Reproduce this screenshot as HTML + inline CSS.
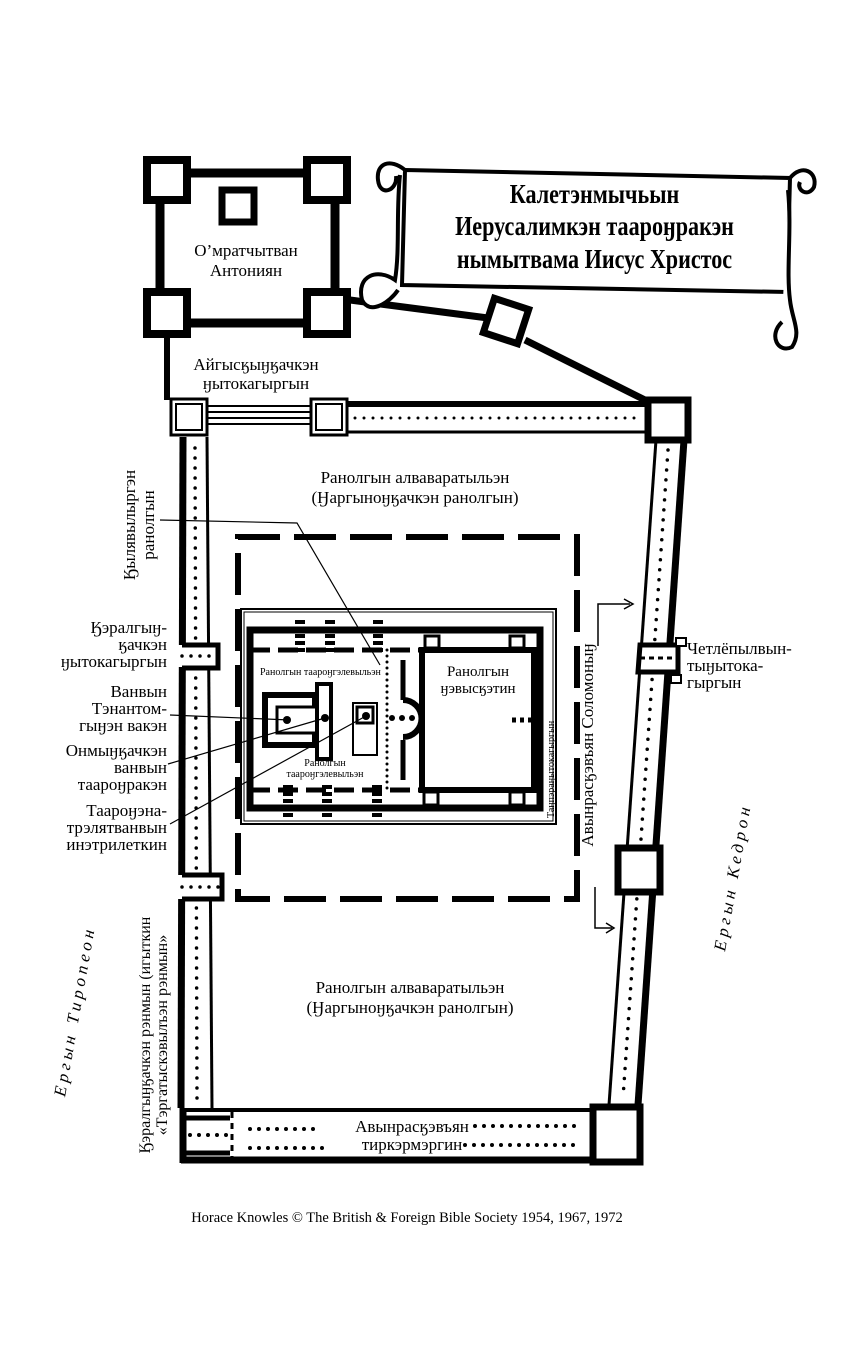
<!DOCTYPE html>
<html><head><meta charset="utf-8"><style>
html,body{margin:0;padding:0;background:#fff;}
svg{display:block;}
text{font-family:"Liberation Serif",serif;fill:#000;}
</style></head><body>
<svg width="864" height="1357" viewBox="0 0 864 1357" xmlns="http://www.w3.org/2000/svg">
<g fill="none" stroke="#000">
<rect x="160" y="173" width="175" height="150" stroke-width="9"/>
<rect x="147" y="160" width="40" height="40" stroke-width="8" fill="#fff"/>
<rect x="307" y="160" width="40" height="40" stroke-width="8" fill="#fff"/>
<rect x="147" y="292" width="40" height="42" stroke-width="8" fill="#fff"/>
<rect x="307" y="292" width="40" height="42" stroke-width="8" fill="#fff"/>
<rect x="222" y="190" width="32" height="32" stroke-width="7"/>
<polyline points="350,300 488,318" stroke-width="7"/>
<polyline points="525,340 655,405" stroke-width="7"/>
<rect x="488" y="303" width="36" height="36" stroke-width="7" fill="#fff" transform="rotate(18 506 321)"/>
<line x1="167" y1="335" x2="167" y2="400" stroke-width="6"/>
</g>
<text x="246" y="256" font-size="17" text-anchor="middle">О’мратчытван</text>
<text x="246" y="276" font-size="17" text-anchor="middle">Антониян</text>
<g fill="#fff" stroke="#000" stroke-width="4">
<path d="M405,170 L790,178 L787,292 L402,285 Z"/>
<path d="M405,170 C390,158 376,163 378,180 C380,198 398,190 396,176" />
<path d="M400,175 C396,210 400,250 395,280 C378,268 356,275 362,300 C370,316 390,302 398,290"/>
<path d="M790,178 C802,163 818,172 814,187 C808,198 796,190 800,182"/>
<path d="M788,190 C792,230 786,270 790,300 C792,320 802,332 792,347 C778,354 768,335 782,322"/>
</g>
<text x="595" y="203" font-size="27" font-weight="bold" text-anchor="middle" transform="scale(0.82 1) translate(130 0)">Калетэнмычьын</text>
<text x="595" y="235" font-size="27" font-weight="bold" text-anchor="middle" transform="scale(0.82 1) translate(130 0)">Иерусалимкэн таароӈракэн</text>
<text x="595" y="268" font-size="27" font-weight="bold" text-anchor="middle" transform="scale(0.82 1) translate(130 0)">нымытвама Иисус Христос</text>
<text x="256" y="370" font-size="17" text-anchor="middle">Айгысӄыӈӄачкэн</text>
<text x="256" y="389" font-size="17" text-anchor="middle">ӈытокагыргын</text>
<g stroke="#000" fill="none">
<line x1="205" y1="406" x2="312" y2="406" stroke-width="2"/>
<line x1="205" y1="412" x2="312" y2="412" stroke-width="2"/>
<line x1="205" y1="418" x2="312" y2="418" stroke-width="2"/>
<line x1="205" y1="424" x2="312" y2="424" stroke-width="2"/>
<line x1="347" y1="404" x2="648" y2="404" stroke-width="6"/>
<line x1="347" y1="432" x2="648" y2="432" stroke-width="3"/>
<line x1="355" y1="418" x2="640" y2="418" stroke-width="3" stroke-dasharray="0 9" stroke-linecap="round"/>
<rect x="171" y="399" width="36" height="36" stroke-width="3" fill="#fff"/>
<rect x="176" y="404" width="26" height="26" stroke-width="2"/>
<rect x="311" y="399" width="36" height="36" stroke-width="3" fill="#fff"/>
<rect x="316" y="404" width="26" height="26" stroke-width="2"/>
<rect x="648" y="400" width="40" height="40" stroke-width="7" fill="#fff"/>
<line x1="183" y1="437" x2="181" y2="1108" stroke-width="7"/>
<line x1="207" y1="437" x2="212" y2="1108" stroke-width="3"/>
<line x1="195" y1="448" x2="197" y2="1100" stroke-width="3.5" stroke-dasharray="0 10" stroke-linecap="round"/>
<rect x="176" y="645" width="42" height="22" fill="#fff" stroke="none"/>
<path d="M182,645 H218 V668 H182" stroke-width="5"/>
<line x1="182" y1="656" x2="215" y2="656" stroke-width="3.5" stroke-dasharray="0 9" stroke-linecap="round"/>
<rect x="176" y="875" width="46" height="24" fill="#fff" stroke="none"/>
<path d="M182,875 H222 V899 H182" stroke-width="5"/>
<line x1="182" y1="887" x2="220" y2="887" stroke-width="3.5" stroke-dasharray="0 9" stroke-linecap="round"/>
<line x1="684" y1="440" x2="638" y2="1105" stroke-width="7"/>
<line x1="656" y1="440" x2="609" y2="1105" stroke-width="3"/>
<line x1="668" y1="450" x2="623" y2="1098" stroke-width="3.5" stroke-dasharray="0 10" stroke-linecap="round"/>
<rect x="634" y="643" width="48" height="30" fill="#fff" stroke="none"/>
<path d="M640,645 H678 V672 H638 Z" stroke-width="5" fill="#fff"/>
<line x1="640" y1="658" x2="676" y2="658" stroke-width="3" stroke-dasharray="5 4"/>
<rect x="676" y="638" width="10" height="8" stroke-width="2" fill="#fff"/>
<rect x="671" y="675" width="10" height="8" stroke-width="2" fill="#fff"/>
<rect x="618" y="848" width="42" height="44" stroke-width="7" fill="#fff"/>
<line x1="181" y1="1110" x2="595" y2="1110" stroke-width="4"/>
<line x1="181" y1="1160" x2="595" y2="1160" stroke-width="7"/>
<line x1="185" y1="1118" x2="230" y2="1118" stroke-width="5"/>
<line x1="185" y1="1153" x2="230" y2="1153" stroke-width="5"/>
<line x1="183" y1="1108" x2="183" y2="1163" stroke-width="7"/>
<line x1="190" y1="1135" x2="230" y2="1135" stroke-width="4" stroke-dasharray="0 9" stroke-linecap="round"/>
<line x1="232" y1="1112" x2="232" y2="1160" stroke-width="3" stroke-dasharray="6 5"/>
<line x1="250" y1="1129" x2="320" y2="1129" stroke-width="4" stroke-dasharray="0 9" stroke-linecap="round"/>
<line x1="250" y1="1148" x2="330" y2="1148" stroke-width="4" stroke-dasharray="0 9" stroke-linecap="round"/>
<line x1="475" y1="1126" x2="580" y2="1126" stroke-width="4" stroke-dasharray="0 9" stroke-linecap="round"/>
<line x1="465" y1="1145" x2="580" y2="1145" stroke-width="4" stroke-dasharray="0 9" stroke-linecap="round"/>
<rect x="593" y="1107" width="47" height="55" stroke-width="7" fill="#fff"/>
<rect x="238" y="537" width="339" height="362" stroke-width="6" stroke-dasharray="42 14"/>
<rect x="241" y="609" width="315" height="215" stroke-width="2" fill="#fff"/>
<rect x="244" y="612" width="309" height="209" stroke-width="1"/>
<rect x="250" y="630" width="290" height="178" stroke-width="7"/>
<line x1="250" y1="650" x2="540" y2="650" stroke-width="5" stroke-dasharray="20 8"/>
<line x1="250" y1="790" x2="540" y2="790" stroke-width="5" stroke-dasharray="20 8"/>
<rect x="422" y="650" width="112" height="140" stroke-width="6" fill="#fff"/>
<rect x="425" y="636" width="14" height="12" stroke-width="3"/>
<rect x="510" y="636" width="14" height="12" stroke-width="3"/>
<rect x="424" y="792" width="14" height="13" stroke-width="3"/>
<rect x="510" y="792" width="14" height="13" stroke-width="3"/>
<line x1="387" y1="650" x2="387" y2="790" stroke-width="3" stroke-dasharray="0 6" stroke-linecap="round"/>
<line x1="403" y1="660" x2="403" y2="700" stroke-width="5"/>
<line x1="403" y1="740" x2="403" y2="780" stroke-width="5"/>
<path d="M403,700 A18,18 0 0 1 403,737" stroke-width="6" fill="#fff"/>
<rect x="265" y="695" width="50" height="50" stroke-width="6"/>
<rect x="277" y="707" width="40" height="26" stroke-width="3" fill="#fff"/>
<rect x="317" y="684" width="14" height="75" stroke-width="4" fill="#fff"/>
<rect x="353" y="703" width="24" height="52" stroke-width="2"/>
<rect x="357" y="707" width="16" height="16" stroke-width="3"/>
<line x1="300" y1="620" x2="300" y2="655" stroke-width="10" stroke-dasharray="4 3"/>
<line x1="330" y1="620" x2="330" y2="655" stroke-width="10" stroke-dasharray="4 3"/>
<line x1="378" y1="620" x2="378" y2="655" stroke-width="10" stroke-dasharray="4 3"/>
<line x1="288" y1="785" x2="288" y2="818" stroke-width="10" stroke-dasharray="4 3"/>
<line x1="327" y1="785" x2="327" y2="818" stroke-width="10" stroke-dasharray="4 3"/>
<line x1="377" y1="785" x2="377" y2="818" stroke-width="10" stroke-dasharray="4 3"/>
<line x1="512" y1="720" x2="540" y2="720" stroke-width="5" stroke-dasharray="4 4"/>
</g>
<g fill="#000">
<circle cx="287" cy="720" r="4"/><circle cx="325" cy="718" r="4"/><circle cx="366" cy="716" r="4"/>
<circle cx="392" cy="718" r="3"/><circle cx="402" cy="718" r="3"/><circle cx="412" cy="718" r="3"/>
</g>
<text x="260" y="675" font-size="10">Ранолгын таароӈгэлевыльэн</text>
<text x="325" y="766" font-size="10" text-anchor="middle">Ранолгын</text>
<text x="325" y="777" font-size="10" text-anchor="middle">таароӈгэлевыльэн</text>
<text x="478" y="676" font-size="15" text-anchor="middle">Ранолгын</text>
<text x="478" y="693" font-size="15" text-anchor="middle">ӈэвысӄэтин</text>
<text font-size="10" transform="translate(554 818) rotate(-90)">Таӈпэраӈытокагыргын</text>
<g stroke="#000" stroke-width="1.2" fill="none">
<polyline points="160,520 297,523 380,665"/>
<line x1="170" y1="715" x2="290" y2="720"/>
<line x1="168" y1="764" x2="325" y2="718"/>
<line x1="170" y1="824" x2="366" y2="716"/>
<path d="M598,646 V604 H630" stroke-width="1.5"/><path d="M624,599 L633,604 L624,609" stroke-width="1.5"/>
<path d="M595,887 V928 H612" stroke-width="1.5"/><path d="M606,923 L614,928 L606,933" stroke-width="1.5"/>
</g>
<text x="415" y="483" font-size="17" text-anchor="middle">Ранолгын алвавaратыльэн</text>
<text x="415" y="503" font-size="17" text-anchor="middle">(Ӈаргыноӈӄачкэн ранолгын)</text>
<text x="410" y="993" font-size="17" text-anchor="middle">Ранолгын алвавaратыльэн</text>
<text x="410" y="1013" font-size="17" text-anchor="middle">(Ӈаргыноӈӄачкэн ранолгын)</text>
<text x="412" y="1132" font-size="17" text-anchor="middle">Авынрасӄэвъян</text>
<text x="412" y="1150" font-size="17" text-anchor="middle">тиркэрмэргин</text>
<text font-size="17" text-anchor="middle" transform="translate(135 525) rotate(-90)">Ӄылявылыргэн</text>
<text font-size="17" text-anchor="middle" transform="translate(154 525) rotate(-90)">ранолгын</text>
<g font-size="17" text-anchor="end">
<text x="167" y="633">Ӄэралгыӈ-</text>
<text x="167" y="650">ӄачкэн</text>
<text x="167" y="667">ӈытокагыргын</text>
<text x="167" y="697">Ванвын</text>
<text x="167" y="714">Тэнантом-</text>
<text x="167" y="731">гыӈэн вакэн</text>
<text x="167" y="756">Онмыӈӄачкэн</text>
<text x="167" y="773">ванвын</text>
<text x="167" y="790">таароӈракэн</text>
<text x="167" y="816">Таароӈэна-</text>
<text x="167" y="833">трэлятванвын</text>
<text x="167" y="850">инэтрилеткин</text>
</g>
<g font-size="17">
<text x="687" y="654">Четлёпылвын-</text>
<text x="687" y="671">тыӈытока-</text>
<text x="687" y="688">гыргын</text>
</g>
<text font-size="17" text-anchor="middle" transform="translate(593 745) rotate(-90)">Авынрасӄэвъян  Соломоныӈ</text>
<text font-size="16" text-anchor="middle" transform="translate(150 1035) rotate(-90)">Ӄэралгыӈӄачкэн рэнмын (игыткин</text>
<text font-size="16" text-anchor="middle" transform="translate(167 1035) rotate(-90)">«Тэргатыскэвылъэн рэнмын»</text>
<text font-size="17" font-style="italic" letter-spacing="4" text-anchor="middle" transform="translate(80 1012) rotate(-80)">Ергын Тиропеон</text>
<text font-size="17" font-style="italic" letter-spacing="4" text-anchor="middle" transform="translate(738 878) rotate(-80)">Ергын Кедрон</text>
<text x="407" y="1222" font-size="14.5" text-anchor="middle">Horace Knowles © The British &amp; Foreign Bible Society 1954, 1967, 1972</text>
</svg>
</body></html>
